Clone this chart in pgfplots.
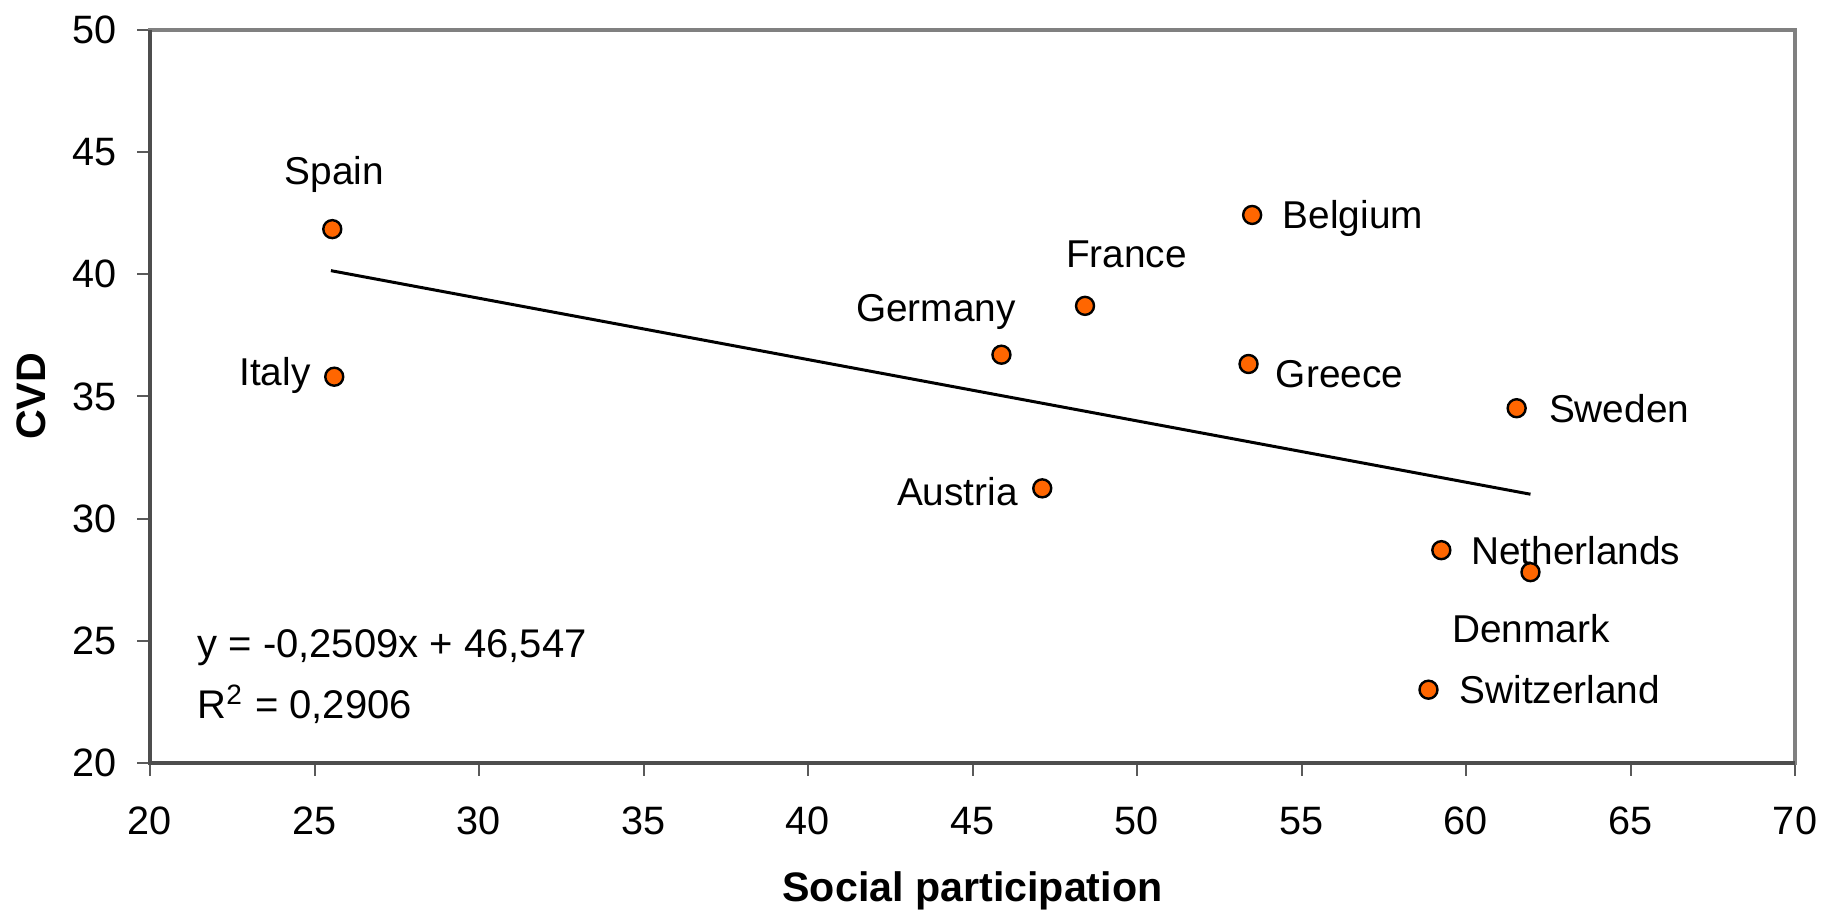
\documentclass[border=0pt]{standalone}
\usepackage{fontspec}
\setmainfont{Liberation Sans}
\usepackage{pgfplots}
\pgfplotsset{compat=1.18}
\definecolor{dotorange}{HTML}{FF6600}
\definecolor{framegray}{HTML}{808080}

\begin{document}
\begin{tikzpicture}
\fontsize{9.7}{11.6}\selectfont
\begin{axis}[
    scale only axis,
    width=411.25pt, height=183.25pt,
    xmin=20, xmax=70, ymin=20, ymax=50,
    xtick={20,25,...,70}, ytick={20,25,...,50},
    tick pos=left, tick align=outside,
    major tick length=3.2pt,
    tick style={framegray!70!black, line width=0.5pt},
    axis line style={framegray, line width=0.8pt},
    /pgf/number format/assume math mode=true,
    ticklabel style={font=\fontsize{9.9}{11.8}\selectfont, inner sep=0pt},
    xticklabel style={anchor=north, yshift=-7.6pt},
    yticklabel style={anchor=east, xshift=-5pt},
    xlabel={\textbf{Social participation}},
    ylabel={\textbf{CVD}},
    label style={font=\fontsize{10.3}{12.4}\selectfont},
    xlabel style={at={(axis description cs:0.5,0)}, anchor=center, yshift=-32pt},
    ylabel style={at={(axis description cs:-0.0723,0.5)}, anchor=center},
    clip=false,
]
\coordinate (sw) at (rel axis cs:0,0);
\coordinate (ne) at (rel axis cs:1,1);

% trendline y = -0.2509x + 46.547
\addplot[black, line width=0.75pt] coordinates {(25.5,40.15) (61.96,31.0)};

\addplot[only marks, mark=*, mark size=2.25pt,
    mark options={fill=dotorange, draw=black, line width=0.6pt}]
coordinates {
(25.54,41.85) (25.6,35.81) (45.88,36.71) (48.42,38.71) (53.5,42.43)
(53.39,36.33) (61.54,34.52) (47.12,31.24) (59.25,28.71) (61.96,27.81)
(58.86,23.0)
};

\node[anchor=center] at (axis cs:25.6,44.1) {Spain};
\node[anchor=east, inner sep=0pt] at (axis cs:24.9,35.88) {Italy};
\node[anchor=center] at (axis cs:43.89,38.45) {Germany};
\node[anchor=center] at (axis cs:49.68,40.8) {France};
\node[anchor=west, inner sep=0pt] at (axis cs:54.41,42.3) {Belgium};
\node[anchor=west, inner sep=0pt] at (axis cs:54.2,35.92) {Greece};
\node[anchor=west, inner sep=0pt] at (axis cs:62.5,34.5) {Sweden};
\node[anchor=east, inner sep=0pt] at (axis cs:46.4,31.12) {Austria};
\node[anchor=west, inner sep=0pt] at (axis cs:60.13,28.69) {Netherlands};
\node[anchor=center] at (axis cs:61.97,25.5) {Denmark};
\node[anchor=west, inner sep=0pt] at (axis cs:59.78,22.99) {Switzerland};

\node[anchor=west, inner sep=0pt, font=\fontsize{10}{12}\selectfont] at (axis cs:21.42,24.7) {y = -0,2509x + 46,547};
\node[anchor=west, inner sep=0pt, font=\fontsize{10}{12}\selectfont] at (axis cs:21.42,22.4) {R\textsuperscript{2} = 0,2906};
\end{axis}
\draw[framegray!60!black, line width=0.8pt] (ne -| sw) -- (sw) -- (sw -| ne);
\path ([xshift=-37.5pt, yshift=-37.75pt]sw) rectangle ([xshift=6.5pt, yshift=7.5pt]ne);
\end{tikzpicture}
\end{document}
